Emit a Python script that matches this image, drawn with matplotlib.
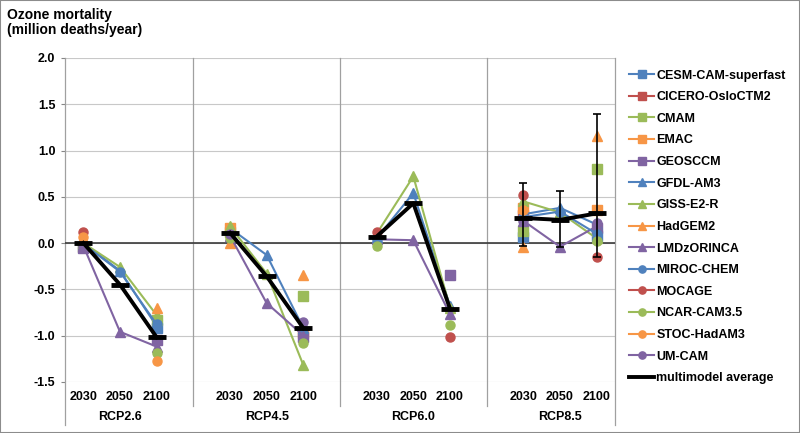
import numpy as np
import matplotlib
matplotlib.use('Agg')
import matplotlib.pyplot as plt
from matplotlib.lines import Line2D
from matplotlib.patches import Rectangle
from matplotlib.transforms import blended_transform_factory

plt.rcParams['font.family'] = ['Liberation Sans', 'DejaVu Sans']
plt.rcParams['font.weight'] = 'bold'
plt.rcParams['axes.unicode_minus'] = False

nan = np.nan
scenarios = ['RCP2.6', 'RCP4.5', 'RCP6.0', 'RCP8.5']
years = ['2030', '2050', '2100']

# values: RCP2.6(2030,2050,2100), RCP4.5(...), RCP6.0(...), RCP8.5(...)
cesm    = [nan, nan, -0.92,   nan, nan, nan,     nan, nan, nan,     0.07, nan, 0.08]
cicero  = [nan, nan, nan,     nan, nan, nan,     nan, nan, nan,     0.30, nan, nan]
cmam    = [-0.04, nan, -0.83, 0.12, nan, -0.57,  nan, nan, nan,     0.13, nan, 0.80]
emac    = [nan, nan, nan,     0.16, nan, -0.97,  nan, nan, nan,     0.38, nan, 0.36]
geosccm = [-0.05, nan, -1.05, nan, nan, -1.02,   nan, nan, -0.35,   nan, nan, 0.16]
gfdl    = [0.00, -0.30, -0.90, 0.16, -0.13, -0.92, 0.05, 0.54, -0.68, 0.31, 0.38, 0.20]
giss    = [0.00, -0.26, -0.78, 0.18, -0.33, -1.32, 0.10, 0.72, -0.70, 0.45, 0.33, 0.05]
hadgem2 = [0.05, nan, -0.70,  0.00, nan, -0.35,  nan, nan, nan,     -0.04, nan, 1.16]
lmdz    = [-0.03, -0.96, -1.12, 0.08, -0.65, -1.00, 0.04, 0.03, -0.77, 0.24, -0.04, 0.18]
miroc   = [-0.01, -0.31, -0.88, nan, nan, nan,   0.03, nan, nan,    0.28, 0.34, 0.10]
mocage  = [0.12, nan, nan,    nan, nan, nan,     0.12, nan, -1.02,  0.52, nan, -0.15]
ncar    = [-0.03, nan, -1.19, 0.05, nan, -1.08,  -0.03, nan, -0.89, nan, nan, 0.02]
stoc    = [0.06, nan, -1.28,  nan, nan, nan,     nan, nan, nan,     0.36, nan, nan]
umcam   = [-0.04, nan, nan,   0.10, nan, -0.85,  nan, nan, nan,     0.24, nan, 0.22]
average = [0.00, -0.45, -1.02, 0.11, -0.36, -0.92, 0.07, 0.43, -0.71, 0.27, 0.25, 0.32]
avg_err_up  = [nan, nan, nan, nan, nan, nan, nan, nan, nan, 0.38, 0.31, 1.07]
avg_err_low = [nan, nan, nan, nan, nan, nan, nan, nan, nan, 0.30, 0.29, 0.47]

BLUE, RED, GREEN, ORANGE, PURPLE = '#4F81BD', '#C0504D', '#9BBB59', '#F79646', '#8064A2'
models = [
    ('CESM-CAM-superfast', cesm, BLUE, 's'),
    ('CICERO-OsloCTM2', cicero, RED, 's'),
    ('CMAM', cmam, GREEN, 's'),
    ('EMAC', emac, ORANGE, 's'),
    ('GEOSCCM', geosccm, PURPLE, 's'),
    ('GFDL-AM3', gfdl, BLUE, '^'),
    ('GISS-E2-R', giss, GREEN, '^'),
    ('HadGEM2', hadgem2, ORANGE, '^'),
    ('LMDzORINCA', lmdz, PURPLE, '^'),
    ('MIROC-CHEM', miroc, BLUE, 'o'),
    ('MOCAGE', mocage, RED, 'o'),
    ('NCAR-CAM3.5', ncar, GREEN, 'o'),
    ('STOC-HadAM3', stoc, ORANGE, 'o'),
    ('UM-CAM', umcam, PURPLE, 'o'),
]

def to_slots(vals):
    arr = np.full(15, nan)
    for g in range(4):
        for j in range(3):
            arr[4 * g + j] = vals[3 * g + j]
    return arr

x = np.arange(15)
W, H = 800, 433
FS = 9
fig = plt.figure(figsize=(W / 100, H / 100), dpi=100)
ax_top, ax_bot = 58, 381.75
ax_l, ax_r = 65, 615
ax = fig.add_axes([ax_l / W, 1 - ax_bot / H, (ax_r - ax_l) / W, (ax_bot - ax_top) / H])
ax.set_xlim(-0.5, 14.5)
ax.set_ylim(-1.5, 2.0)

ax.set_yticks(np.arange(-1.5, 2.01, 0.5))
ax.set_yticklabels(['%.1f' % v for v in np.arange(-1.5, 2.01, 0.5)], fontsize=FS, fontweight='bold')
ax.grid(axis='y', color='#C8C8C8', lw=0.8)
ax.set_axisbelow(True)
ax.tick_params(axis='y', length=3, color='#868686', pad=4)
tick_x = [4 * g + j for g in range(4) for j in range(3)]
ax.set_xticks(tick_x)
ax.set_xticklabels(years * 4, fontsize=FS, fontweight='bold')
ax.tick_params(axis='x', length=0, pad=7)
for s in ['top', 'bottom', 'left', 'right']:
    ax.spines[s].set_visible(False)

ax.axhline(0, color='#3A3A3A', lw=1.2, zorder=1.5)

def px_to_axes_y(py):
    return (ax_bot - py) / (ax_bot - ax_top)
trans = blended_transform_factory(ax.transData, ax.transAxes)
for xv, ybot in [(-0.5, 425), (3, 406), (7, 406), (11, 406), (14.5, 425)]:
    ax.add_line(Line2D([xv, xv], [1, px_to_axes_y(ybot)], transform=trans,
                       color='#A0A0A0', lw=0.9, clip_on=False, zorder=1))

handles = []
for name, vals, col, mk in models:
    h, = ax.plot(x, to_slots(vals), color=col, lw=1.5, marker=mk, ms=6.5,
                 mec=col, mfc=col, label=name, zorder=3)
    handles.append(h)

avg = to_slots(average)
up = to_slots(avg_err_up)
low = to_slots(avg_err_low)
m = ~np.isnan(up)
ax.errorbar(x[m], avg[m], yerr=[low[m], up[m]], fmt='none', ecolor='black',
            elinewidth=1.2, capsize=3, capthick=1.2, zorder=4)
hav, = ax.plot(x, avg, color='black', lw=2.8, zorder=5, label='multimodel average')
ax.plot(x, avg, ls='none', marker='_', ms=13, mew=3.5, color='black', zorder=5)
handles.append(hav)

gtrans = blended_transform_factory(ax.transData, fig.transFigure)
for g, sname in enumerate(scenarios):
    ax.text(4 * g + 1, 1 - 417 / H, sname, transform=gtrans, ha='center', va='center',
            fontsize=FS, fontweight='bold')

fig.text(7 / W, 1 - 15 / H, 'Ozone mortality', ha='left', va='center', fontsize=10, fontweight='bold')
fig.text(7 / W, 1 - 30 / H, '(million deaths/year)', ha='left', va='center', fontsize=10, fontweight='bold')

ax.legend(handles, [h.get_label() for h in handles], loc='upper left',
          bbox_to_anchor=(629 / W, 1 - 69.5 / H), bbox_transform=fig.transFigure,
          frameon=False, prop={'size': FS, 'weight': 'bold'}, labelspacing=0.77,
          handlelength=2.0, handletextpad=0.2, borderpad=0, borderaxespad=0,
          markerscale=0.8, numpoints=1)

fig.patches.append(Rectangle((0, 0), 1, 1, transform=fig.transFigure, fill=False,
                             edgecolor='#8C8C8C', lw=1.5))

fig.savefig('out.png', dpi=100)
